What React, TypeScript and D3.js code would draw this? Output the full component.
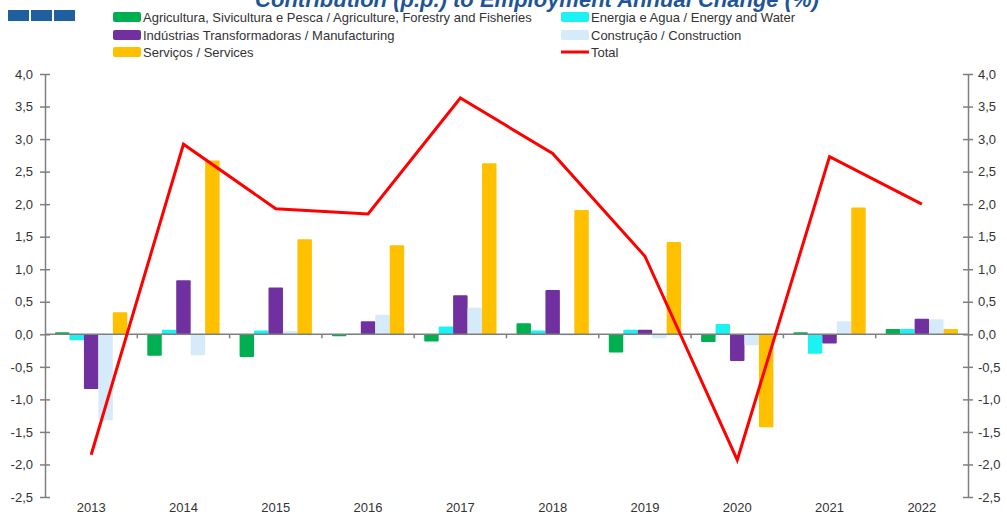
import React, { useRef, useEffect } from 'react';
import * as d3 from 'd3';

const years = ['2013', '2014', '2015', '2016', '2017', '2018', '2019', '2020', '2021', '2022'];
const agriculture = [0.03, -0.33, -0.35, -0.03, -0.11, 0.17, -0.28, -0.12, 0.03, 0.08];
const energy = [-0.09, 0.07, 0.06, 0.01, 0.12, 0.06, 0.07, 0.16, -0.3, 0.08];
const manufacturing = [-0.84, 0.83, 0.72, 0.2, 0.6, 0.68, 0.07, -0.41, -0.14, 0.24];
const construction = [-1.32, -0.32, 0.05, 0.3, 0.41, -0.02, -0.06, -0.17, 0.2, 0.23];
const services = [0.34, 2.67, 1.46, 1.37, 2.63, 1.91, 1.42, -1.43, 1.95, 0.08];
const total = [-1.85, 2.92, 1.93, 1.85, 3.63, 2.78, 1.2, -1.93, 2.73, 2.0];
const yTicks = [-2.5, -2, -1.5, -1, -0.5, 0, 0.5, 1, 1.5, 2, 2.5, 3, 3.5, 4];

const seriesNames = [
  'Agricultura, Sivicultura e Pesca / Agriculture, Forestry and Fisheries',
  'Energia e Agua / Energy and Water',
  'Indústrias Transformadoras / Manufacturing',
  'Construção / Construction',
  'Serviços / Services',
];
const seriesColors = ['#00B050', '#1DF2F2', '#7030A0', '#D5EBFA', '#FFC000'];

const App = () => {
  const chartRef = useRef<SVGSVGElement>(null);

  useEffect(() => {
    const series = [agriculture, energy, manufacturing, construction, services];
    const width = 1007;
    const height = 517;
    const left = 45;
    const right = 968;

    const svg = d3.select(chartRef.current);
    svg.selectAll('*').remove();
    svg.attr('width', width).attr('height', height);

    const x = d3.scaleBand().domain(years).range([left, right]).padding(0);
    const inner = d3
      .scaleBand<number>()
      .domain(d3.range(series.length))
      .range([10, x.bandwidth() - 10]);
    const y = d3.scaleLinear().domain([-2.5, 4]).range([497, 74]);
    const fmt = (d: number) => d.toFixed(1).replace('.', ',');

    // title (cut off at the top, as in the source image)
    svg
      .append('text')
      .attr('x', 537)
      .attr('y', 7)
      .attr('text-anchor', 'middle')
      .attr('font-family', 'Liberation Sans, Arial, sans-serif')
      .attr('font-size', 22)
      .attr('font-weight', 'bold')
      .attr('font-style', 'italic')
      .attr('fill', '#1F5597')
      .text('Contribution (p.p.) to Employment Annual Change (%)');

    // blue squares
    svg
      .selectAll('.sq')
      .data([0, 1, 2])
      .enter()
      .append('rect')
      .attr('x', (d) => 8 + d * 23)
      .attr('y', 10)
      .attr('width', 21)
      .attr('height', 11)
      .attr('fill', '#1F5FA0');

    // bars
    series.forEach((vals, i) => {
      svg
        .append('g')
        .selectAll('rect')
        .data(vals)
        .enter()
        .append('rect')
        .attr('x', (d, j) => (x(years[j]) as number) + (inner(i) as number))
        .attr('width', inner.bandwidth())
        .attr('y', (d) => y(Math.max(0, d)))
        .attr('height', (d) => Math.abs(y(d) - y(0)))
        .attr('rx', 1)
        .attr('fill', seriesColors[i]);
    });

    // axes
    const axisColor = '#7F7F7F';
    const leftAxis = d3.axisLeft(y).tickValues(yTicks).tickFormat(fmt).tickSize(0).tickPadding(12);
    const gl = svg.append('g').attr('transform', `translate(${left},0)`).call(leftAxis);
    const rightAxis = d3.axisRight(y).tickValues(yTicks).tickFormat(fmt).tickSize(0).tickPadding(10);
    const gr = svg.append('g').attr('transform', `translate(${right},0)`).call(rightAxis);
    [gl, gr].forEach((g) => {
      g.select('.domain').attr('stroke', axisColor).attr('stroke-width', 1.5);
      g.selectAll('.tick text')
        .attr('font-family', 'Liberation Sans, Arial, sans-serif')
        .attr('font-size', 13)
        .attr('fill', '#333');
      g.selectAll('.tick')
        .append('line')
        .attr('x1', -5)
        .attr('x2', 5)
        .attr('stroke', axisColor)
        .attr('stroke-width', 1.5);
    });

    // zero line
    svg
      .append('line')
      .attr('x1', left)
      .attr('x2', right)
      .attr('y1', y(0))
      .attr('y2', y(0))
      .attr('stroke', axisColor)
      .attr('stroke-width', 1.5);
    svg
      .append('g')
      .selectAll('line')
      .data(years.slice(1))
      .enter()
      .append('line')
      .attr('x1', (d) => x(d) as number)
      .attr('x2', (d) => x(d) as number)
      .attr('y1', y(0))
      .attr('y2', y(0) + 4)
      .attr('stroke', axisColor)
      .attr('stroke-width', 1.5);

    // x labels
    svg
      .append('g')
      .selectAll('text')
      .data(years)
      .enter()
      .append('text')
      .attr('x', (d) => (x(d) as number) + x.bandwidth() / 2)
      .attr('y', 512)
      .attr('text-anchor', 'middle')
      .attr('font-family', 'Liberation Sans, Arial, sans-serif')
      .attr('font-size', 13)
      .attr('fill', '#333')
      .text((d) => d);

    // total line
    const line = d3
      .line<number>()
      .x((d, j) => (x(years[j]) as number) + x.bandwidth() / 2)
      .y((d) => y(d));
    svg
      .append('path')
      .datum(total)
      .attr('d', line)
      .attr('fill', 'none')
      .attr('stroke', '#FF0000')
      .attr('stroke-width', 3);

    // legend
    const legendItems = [
      { name: seriesNames[0], color: seriesColors[0], x: 113, y: 17, type: 'rect' },
      { name: seriesNames[1], color: seriesColors[1], x: 561, y: 17, type: 'rect' },
      { name: seriesNames[2], color: seriesColors[2], x: 113, y: 35, type: 'rect' },
      { name: seriesNames[3], color: seriesColors[3], x: 561, y: 35, type: 'rect' },
      { name: seriesNames[4], color: seriesColors[4], x: 113, y: 52, type: 'rect' },
      { name: 'Total', color: '#FF0000', x: 561, y: 52, type: 'line' },
    ];
    const lg = svg.append('g');
    legendItems.forEach((it) => {
      if (it.type === 'rect') {
        lg.append('rect')
          .attr('x', it.x)
          .attr('y', it.y - 5)
          .attr('width', 28)
          .attr('height', 10)
          .attr('rx', 2)
          .attr('fill', it.color);
      } else {
        lg.append('line')
          .attr('x1', it.x)
          .attr('x2', it.x + 28)
          .attr('y1', it.y)
          .attr('y2', it.y)
          .attr('stroke', it.color)
          .attr('stroke-width', 3);
      }
      lg.append('text')
        .attr('x', it.x + 30)
        .attr('y', it.y + 4.5)
        .attr('font-family', 'Liberation Sans, Arial, sans-serif')
        .attr('font-size', 13)
        .attr('fill', '#333')
        .text(it.name);
    });
  }, []);

  return <svg ref={chartRef} style={{ position: 'absolute', left: 0, top: 0 }}></svg>;
};

export default App;
